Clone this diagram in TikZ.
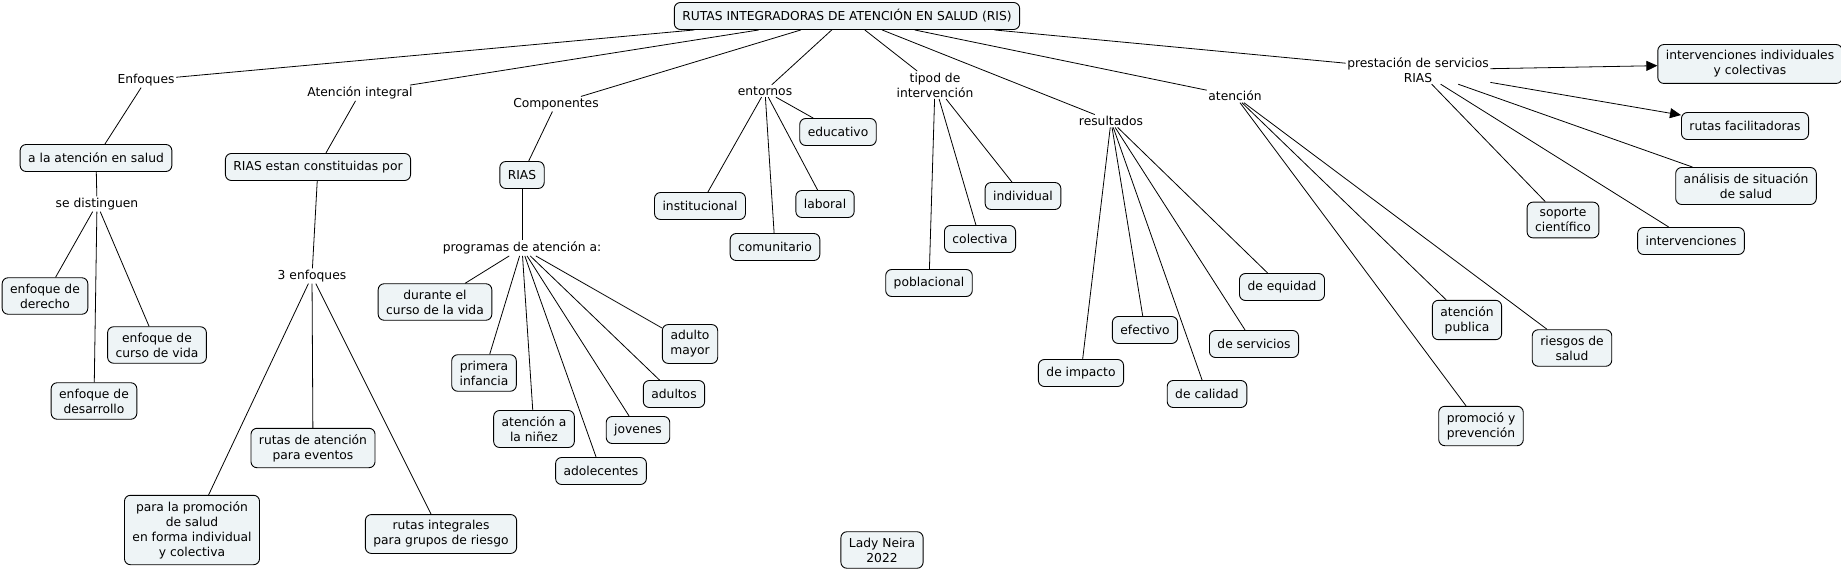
\documentclass[tikz,border=0pt]{standalone}
\usepackage{fontspec}
\setmainfont{DejaVu Sans}
\usetikzlibrary{arrows.meta}
\definecolor{cfill}{RGB}{238,244,246}
\begin{document}
\begin{tikzpicture}[x=1pt,y=-1pt,
  every node/.style={font=\fontsize{12.3}{15}\selectfont},
  concept/.style={draw, fill=cfill, rounded corners=6pt, line width=0.9pt, align=center, inner xsep=8pt, inner ysep=6pt, minimum height=27pt},
  lphrase/.style={align=center, inner sep=1.5pt},
  conn/.style={line width=0.8pt},
  arr/.style={conn, -{Triangle[length=11pt,width=10pt]}}]
\useasboundingbox (0,0) rectangle (1841,572);
% concepts
\node[concept] (root) at (847,16) {RUTAS INTEGRADORAS DE ATENCIÓN EN SALUD (RIS)};
\node[concept] (salud) at (96,158) {a la atención en salud};
\node[concept] (const) at (318,167) {RIAS estan constituidas por};
\node[concept] (der) at (45,296) {enfoque de\\derecho};
\node[concept] (curso) at (157,345) {enfoque de\\curso de vida};
\node[concept] (desa) at (94,401) {enfoque de\\desarrollo};
\node[concept] (eventos) at (313,448) {rutas de atención\\para eventos};
\node[concept] (promo) at (192,530) {para la promoción\\de salud\\en forma individual\\y colectiva};
\node[concept] (riesgo) at (441,534) {rutas integrales\\para grupos de riesgo};
\node[concept] (rias) at (522,175) {RIAS};
\node[concept] (durante) at (435,302) {durante el\\curso de la vida};
\node[concept] (primera) at (484,373) {primera\\infancia};
\node[concept] (ninez) at (534,429) {atención a\\la niñez};
\node[concept] (adoles) at (601,471) {adolecentes};
\node[concept] (jovenes) at (638,430) {jovenes};
\node[concept] (adultos) at (674,394) {adultos};
\node[concept] (mayor) at (690,344) {adulto\\mayor};
\node[concept] (inst) at (700,206) {institucional};
\node[concept] (comu) at (775,247) {comunitario};
\node[concept] (labo) at (825,204) {laboral};
\node[concept] (educ) at (838,132) {educativo};
\node[concept] (pobl) at (929,283) {poblacional};
\node[concept] (colec) at (980,239) {colectiva};
\node[concept] (indiv) at (1023,196) {individual};
\node[concept] (impacto) at (1081,373) {de impacto};
\node[concept] (efect) at (1145,330) {efectivo};
\node[concept] (calidad) at (1207,394) {de calidad};
\node[concept] (servi) at (1254,344) {de servicios};
\node[concept] (equidad) at (1282,287) {de equidad};
\node[concept] (apub) at (1467,320) {atención\\publica};
\node[concept] (rsalud) at (1572,348) {riesgos de\\salud};
\node[concept] (prev) at (1481,426) {promoció y\\prevención};
\node[concept] (soporte) at (1563,220) {soporte\\científico};
\node[concept] (interv) at (1691,241) {intervenciones};
\node[concept] (analisis) at (1746,186) {análisis de situación\\de salud};
\node[concept] (facil) at (1745,126) {rutas facilitadoras};
\node[concept] (indcol) at (1750,64) {intervenciones individuales\\y colectivas};
\node[concept] (lady) at (882,550) {Lady Neira\\2022};
% linking phrases
\node[lphrase] (enf) at (146,80) {Enfoques};
\node[lphrase] (aint) at (360,93) {Atención integral};
\node[lphrase] (comp) at (556,104) {Componentes};
\node[lphrase] (ento) at (765,91) {entornos};
\node[lphrase] (tipo) at (935,85) {tipod de\\intervención};
\node[lphrase] (resu) at (1111,121) {resultados};
\node[lphrase] (aten) at (1235,96) {atención};
\node[lphrase] (prest) at (1418,70) {prestación de servicios\\RIAS};
\node[lphrase] (dist) at (97,204) {se distinguen};
\node[lphrase] (tres) at (312,276) {3 enfoques};
\node[lphrase] (prog) at (522,248) {programas de atención a:};
% connectors
\foreach \t in {enf,aint,comp,ento,tipo,resu,aten,prest} \draw[conn] (root) -- (\t);
\draw[conn] (enf) -- (salud);
\draw[conn] (salud) -- (dist);
\foreach \t in {der,curso,desa} \draw[conn] (dist) -- (\t);
\draw[conn] (aint) -- (const);
\draw[conn] (const) -- (tres);
\foreach \t in {promo,eventos,riesgo} \draw[conn] (tres) -- (\t);
\draw[conn] (comp) -- (rias);
\draw[conn] (rias) -- (prog);
\foreach \t in {durante,primera,ninez,adoles,jovenes,adultos,mayor} \draw[conn] (prog) -- (\t);
\foreach \t in {inst,comu,labo,educ} \draw[conn] (ento) -- (\t);
\foreach \t in {pobl,colec,indiv} \draw[conn] (tipo) -- (\t);
\foreach \t in {impacto,efect,calidad,servi,equidad} \draw[conn] (resu) -- (\t);
\foreach \t in {apub,rsalud,prev} \draw[conn] (aten) -- (\t);
\draw[arr] (prest) -- (indcol);
\draw[arr] (prest) -- (facil);
\foreach \t in {analisis,interv,soporte} \draw[conn] (prest) -- (\t);
\end{tikzpicture}
\end{document}
